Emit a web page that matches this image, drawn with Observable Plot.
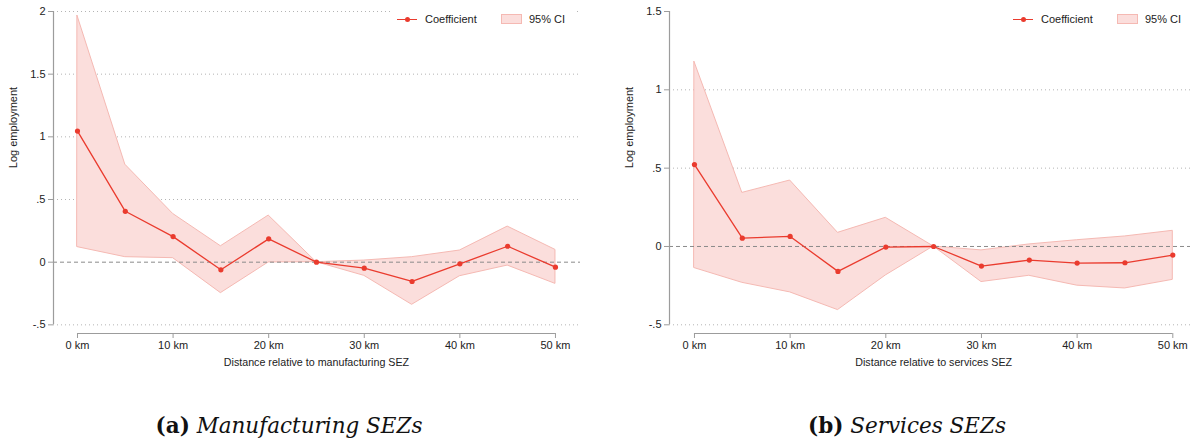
<!DOCTYPE html>
<html>
<head>
<meta charset="utf-8">
<script src="https://cdn.jsdelivr.net/npm/d3@7"></script>
<script src="https://cdn.jsdelivr.net/npm/@observablehq/plot@0.6"></script>
<style>
  body { margin: 0; background: #fff; font-family: "Liberation Sans", Arial, sans-serif; }
  #wrap { position: relative; width: 1192px; height: 448px; }
  .panel { position: absolute; top: 0; width: 596px; height: 390px; }
  .legend { position: absolute; top: 5px; height: 28px; background: #fff; font-size: 11px; color: #222; }
  .legend .item { position: absolute; top: 8px; line-height: 12px; }
  .legend .ln { position: absolute; top: 14px; width: 20px; height: 0; border-top: 1.3px solid #ea3b2e; }
  .legend .dot { position: absolute; top: 11.5px; width: 5px; height: 5px; border-radius: 50%; background: #ea3b2e; }
  .legend .patch { position: absolute; top: 14px; width: 19px; height: 8px; background: #fbdedc; border: 1px solid #f5b9b3; }
  .cap { position: absolute; top: 413px; transform: translateX(-50%); white-space: nowrap;
         font-family: "DejaVu Serif", "Liberation Serif", serif; font-size: 21.5px; color: #111; }
  .cap b { font-weight: bold; }
  .cap i { font-style: italic; }
</style>
</head>
<body>
<div id="wrap">
  <div class="panel" id="pa" style="left:0px"></div>
  <div class="panel" id="pb" style="left:596px"></div>
</div>
<script>
// ---- data ----
const distances = [0, 5, 10, 15, 20, 25, 30, 35, 40, 45, 50];

const manufCoef = [1.046, 0.406, 0.204, -0.061, 0.186, 0, -0.048, -0.154, -0.013, 0.127, -0.040];
const manufLo   = [0.120, 0.040, 0.032, -0.247, -0.002, 0, -0.109, -0.340, -0.112, -0.027, -0.173];
const manufHi   = [1.965, 0.778, 0.385, 0.127, 0.372, 0, 0.013, 0.040, 0.093, 0.284, 0.098];

const servCoef = [0.523, 0.053, 0.064, -0.159, -0.004, 0, -0.125, -0.087, -0.106, -0.104, -0.055];
const servLo   = [-0.138, -0.232, -0.293, -0.406, -0.185, 0, -0.227, -0.187, -0.250, -0.268, -0.213];
const servHi   = [1.178, 0.342, 0.421, 0.087, 0.183, 0, -0.025, 0.013, 0.040, 0.064, 0.100];

const xTicks = [0, 10, 20, 30, 40, 50];
const manufYTicks = [-0.5, 0, 0.5, 1, 1.5, 2];
const servYTicks = [-0.5, 0, 0.5, 1, 1.5];
const manufGrid = [-0.5, 0.5, 1, 1.5, 2];
const servGrid = [-0.5, 0.5, 1];

const yLabel = "Log employment";
const manufXLabel = "Distance relative to manufacturing SEZ";
const servXLabel = "Distance relative to services SEZ";
const legendLabels = ["Coefficient", "95% CI"];
const captions = [["(a)", "Manufacturing SEZs"], ["(b)", "Services SEZs"]];

// ---- style ----
const RED = "#ea3b2e", FILL = "#fbdedc", EDGE = "#f5b9b3", AXIS = "#9c9c9c", TXT = "#222";
const FONT = "Liberation Sans, Arial, sans-serif";

function fmt(v) {
  if (v === 0) return "0";
  let s = String(v);
  return s.replace(/^0\./, ".").replace(/^-0\./, "-.");
}

function makePanel(opts) {
  const rows = distances.map((d, i) => ({d, c: opts.coef[i], lo: opts.lo[i], hi: opts.hi[i]}));
  const xmin = d3.min(distances), xmax = d3.max(distances);
  const ylo = d3.min(opts.yTicks), yhi = d3.max(opts.yTicks);
  return Plot.plot({
    width: 596,
    height: 390,
    marginTop: 11,
    marginBottom: 57,
    marginLeft: opts.ml,
    marginRight: opts.mr,
    style: {fontFamily: FONT, fontSize: "11px", color: TXT, background: "#fff"},
    x: {domain: opts.xDomain},
    y: {domain: opts.yDomain},
    marks: [
      Plot.ruleY(opts.grid, {stroke: "#b4b4b4", strokeWidth: 1, strokeDasharray: "1,3"}),
      Plot.areaY(rows, {x: "d", y1: "lo", y2: "hi", fill: FILL, stroke: EDGE, strokeWidth: 1}),
      Plot.ruleY([0], {stroke: "#8a8a8a", strokeWidth: 1, strokeDasharray: "4,3"}),
      Plot.line(rows, {x: "d", y: "c", stroke: RED, strokeWidth: 1.3}),
      Plot.dot(rows, {x: "d", y: "c", r: 2.6, fill: RED, stroke: "none"}),
      // axis lines
      Plot.ruleY([{y: opts.yDomain[0], x1: xmin, x2: xmax}], {y: "y", x1: "x1", x2: "x2", stroke: AXIS, strokeWidth: 1.2}),
      Plot.ruleX([{x: opts.xDomain[0], y1: ylo, y2: yhi}], {x: "x", y1: "y1", y2: "y2", stroke: AXIS, strokeWidth: 1.2}),
      Plot.axisX({ticks: xTicks, tickFormat: d => d + " km", tickSize: 5, tickPadding: 3, stroke: AXIS, label: null, fontSize: 11}),
      Plot.axisY({ticks: opts.yTicks, tickFormat: fmt, tickSize: 5, tickPadding: 3, stroke: AXIS, label: null, fontSize: 11}),
      Plot.text([opts.xLabel], {x: (xmin + xmax) / 2, frameAnchor: "bottom", dy: 32, text: d => d, fontSize: 10.7, fill: TXT}),
      Plot.text([yLabel], {y: (ylo + yhi) / 2, frameAnchor: "left", dx: -40, rotate: -90, text: d => d, fontSize: 11, fill: TXT})
    ]
  });
}

function addLegend(el, left) {
  const lg = document.createElement("div");
  lg.className = "legend";
  lg.style.left = left + "px";
  lg.style.width = "184px";
  lg.innerHTML =
    `<div class="ln" style="left:7px"></div><div class="dot" style="left:14.5px"></div>` +
    `<div class="item" style="left:35px">${legendLabels[0]}</div>` +
    `<div class="patch" style="left:111px;top:9px"></div>` +
    `<div class="item" style="left:139px">${legendLabels[1]}</div>`;
  el.appendChild(lg);
}

const pa = document.getElementById("pa");
pa.appendChild(makePanel({
  coef: manufCoef, lo: manufLo, hi: manufHi,
  yTicks: manufYTicks, grid: manufGrid,
  xDomain: [-2.51, 52.62], yDomain: [-0.569, 2],
  ml: 53, mr: 16, xLabel: manufXLabel
}));
addLegend(pa, 390);

const pb = document.getElementById("pb");
pb.appendChild(makePanel({
  coef: servCoef, lo: servLo, hi: servHi,
  yTicks: servYTicks, grid: servGrid,
  xDomain: [-2.61, 51.85], yDomain: [-0.5555, 1.5],
  ml: 73, mr: 2, xLabel: servXLabel
}));
addLegend(pb, 410);

const wrap = document.getElementById("wrap");
[[289, captions[0]], [907, captions[1]]].forEach(([cx, c]) => {
  const d = document.createElement("div");
  d.className = "cap";
  d.style.left = cx + "px";
  d.innerHTML = `<b>${c[0]}</b> <i>${c[1]}</i>`;
  wrap.appendChild(d);
});
</script>
</body>
</html>
